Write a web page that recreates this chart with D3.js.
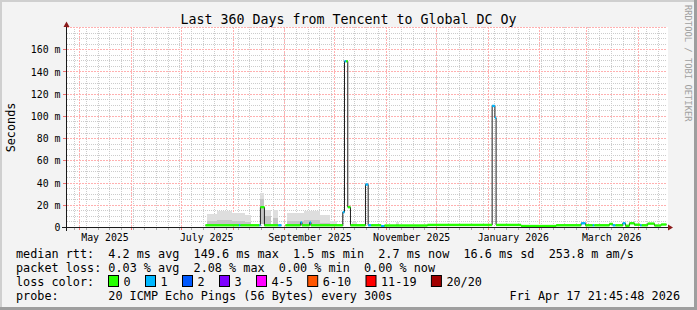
<!DOCTYPE html>
<html>
<head>
<meta charset="utf-8">
<script src="https://cdn.jsdelivr.net/npm/d3@7/dist/d3.min.js"></script>
<style>
  body { margin: 0; background: #fff; }
  svg text { font-family: "DejaVu Sans Mono", monospace; white-space: pre; }
</style>
</head>
<body>
<div id="chart"></div>
<script>
// time window of the graph: last 360 days
const startTime = "2025-04-22 21:45";
const endTime = "2026-04-17 21:45";

// median rtt (ms), each value holds from its time until the next one (null = no data)
const medianTimes = [
  "2025-07-15 07:00", "2025-08-04 09:00", "2025-08-05 06:00", "2025-08-16 16:00",
  "2025-08-17 06:00", "2025-08-19 16:00", "2025-08-28 01:00", "2025-08-29 21:00",
  "2025-09-01 07:00", "2025-09-10 07:00", "2025-09-11 05:00", "2025-09-15 17:00",
  "2025-09-16 14:00", "2025-10-05 16:00", "2025-10-06 17:00", "2025-10-07 17:00",
  "2025-10-08 16:00", "2025-10-10 07:00", "2025-10-19 07:00", "2025-10-20 22:00",
  "2025-10-22 17:00", "2025-10-28 17:00", "2025-10-30 17:00", "2025-11-25 12:00",
  "2026-01-03 07:00", "2026-01-04 23:00", "2026-01-05 16:00", "2026-01-20 16:00",
  "2026-02-10 17:00", "2026-02-25 17:00", "2026-02-28 07:00", "2026-03-04 16:00",
  "2026-03-05 16:00", "2026-03-14 16:00", "2026-03-16 16:00", "2026-03-18 07:00",
  "2026-03-22 16:00", "2026-03-24 07:00", "2026-03-26 16:00", "2026-03-29 16:00",
  "2026-04-02 02:00", "2026-04-03 01:00", "2026-04-06 15:00", "2026-04-10 16:00",
  "2026-04-14 16:00"
];
const medianValues = [
  2.0, 2.0, 2.0, 2.0,
  18.3, 2.0, 2.0, null,
  2.0, 4.5, 2.0, 4.5,
  2.0, 13.8, 149.6, 149.6,
  18.3, 2.0, 38.7, 2.0,
  2.0, 1.2, 1.8, 2.3,
  109.4, 98.8, 2.3, 1.3,
  2.0, 3.8, 2.0, 2.0,
  2.0, 3.2, 2.0, 2.0,
  3.8, 1.6, 3.8, 2.5,
  2.0, 2.0, 3.5, 1.8,
  2.7
];
// packet loss bucket (index into lossLabels)
const medianLoss = [
  0, 1, 0, 1,
  0, 0, 1, 0,
  0, 1, 0, 1,
  0, 1, 1, 0,
  0, 0, 1, 1,
  0, 1, 0, 0,
  1, 1, 0, 0,
  0, 1, 0, 1,
  0, 0, 1, 0,
  1, 0, 0, 0,
  1, 0, 0, 0,
  0
];

// smoke: spread of the 20 pings (ms)
const smokeStart = [
  "2025-07-16 12:00", "2025-07-22 12:00", "2025-07-31 00:00", "2025-08-07 18:00",
  "2025-08-17 06:00", "2025-08-19 16:00", "2025-08-24 14:00", "2025-09-02 12:00",
  "2025-09-12 10:00", "2025-09-22 00:00", "2025-09-27 18:00", "2025-10-11 12:00",
  "2025-11-06 20:00"
];
const smokeEnd = [
  "2025-07-22 12:00", "2025-07-31 00:00", "2025-08-07 18:00", "2025-08-11 20:00",
  "2025-08-19 16:00", "2025-08-23 20:00", "2025-08-28 01:00", "2025-09-12 10:00",
  "2025-09-22 00:00", "2025-09-27 18:00", "2025-10-01 22:00", "2025-10-14 04:00",
  "2025-11-08 16:00"
];
const smokeLow = [1, 1, 1, 1, 3, 1, 1, 1, 1, 1, 1, 1, 1];
const smokeMid = [6, 7, 6, 5, 26, 10, 9, 6, 7, 4, 3, 3, 3];
const smokeHigh = [12, 14.5, 13, 11, 31, 16, 16, 13, 14.5, 11, 6, 5, 5];

const yTicks = [0, 20, 40, 60, 80, 100, 120, 140, 160];
const lossLabels = ["0", "1", "2", "3", "4-5", "6-10", "11-19", "20/20"];
const lossColors = ["#26ff00", "#00b8ff", "#0059ff", "#7e00ff", "#ff00ff", "#ff5500", "#ff0000", "#a10000"];

const titleText = "Last 360 Days from Tencent to Global DC Oy";
const legendLines = [
  "median rtt:  4.2 ms avg  149.6 ms max  1.5 ms min  2.7 ms now  16.6 ms sd  253.8 m am/s",
  "packet loss: 0.03 % avg  2.08 % max  0.00 % min  0.00 % now"
];
const probeText = "20 ICMP Echo Pings (56 Bytes) every 300s";
const stampText = "Fri Apr 17 21:45:48 2026";

// ---------------------------------------------------------------
const W = 697, H = 310;
const parse = d3.utcParse("%Y-%m-%d %H:%M");
const t0 = parse(startTime), t1 = parse(endTime);

const svg = d3.select("#chart").append("svg")
  .attr("width", W)
  .attr("height", H);

// image background with shaded frame
svg.append("rect").attr("width", W).attr("height", H).attr("fill", "#f3f3f3");
svg.append("path").attr("d", `M0,0H${W}V2H2V${H}H0Z`).attr("fill", "#cfcfcf");
svg.append("path").attr("d", `M${W},${H}H0V${H - 3}H${W - 3}V0H${W}Z`).attr("fill", "#9e9e9e");

// scales
const x = d3.scaleUtc().domain([t0, t1]).range([66.5, 666.5]);
const y = d3.scaleLinear().domain([0, 180]).range([227.5, 27.5]);

// canvas
svg.append("rect")
  .attr("x", 67).attr("y", 27)
  .attr("width", 601).attr("height", 201)
  .attr("fill", "#ffffff");

const minorCol = "#cccccc";
const majorCol = "#ffb0b0";

// minor grid: weeks / 5 ms
const weeks = d3.utcMonday.range(t0, t1);
const months = d3.utcMonth.range(t0, t1);
const minorY = d3.range(5, 181, 5).filter(v => v % 20 !== 0);
const majorY = yTicks.filter(v => v > 0).concat([180]);
const px = v => Math.round(v - 0.5) + 0.5;

const gridMinor = svg.append("g")
  .attr("stroke", minorCol)
  .attr("stroke-dasharray", "1,1");
gridMinor.selectAll("line.v").data(weeks).enter().append("line")
  .attr("class", "v")
  .attr("x1", d => px(x(d))).attr("x2", d => px(x(d)))
  .attr("y1", 27).attr("y2", 227);
gridMinor.selectAll("line.h").data(minorY).enter().append("line")
  .attr("class", "h")
  .attr("x1", 67).attr("x2", 667)
  .attr("y1", d => px(y(d))).attr("y2", d => px(y(d)));

// major grid: months / 20 ms
const gridMajor = svg.append("g")
  .attr("stroke", majorCol)
  .attr("stroke-dasharray", "2,1");
gridMajor.selectAll("line.v").data(months).enter().append("line")
  .attr("class", "v")
  .attr("x1", d => px(x(d))).attr("x2", d => px(x(d)))
  .attr("y1", 27).attr("y2", 227);
gridMajor.selectAll("line.h").data(majorY).enter().append("line")
  .attr("class", "h")
  .attr("x1", 67).attr("x2", 667)
  .attr("y1", d => px(y(d))).attr("y2", d => px(y(d)));

// small ticks outside the axes
const ticks = svg.append("g");
ticks.selectAll("line.w").data(weeks).enter().append("line")
  .attr("class", "w")
  .attr("x1", d => px(x(d))).attr("x2", d => px(x(d)))
  .attr("y1", 228).attr("y2", 230)
  .attr("stroke", "#aaaaaa");
ticks.selectAll("line.m").data(months).enter().append("line")
  .attr("class", "m")
  .attr("x1", d => px(x(d))).attr("x2", d => px(x(d)))
  .attr("y1", 228).attr("y2", 230)
  .attr("stroke", "#f07070");
ticks.selectAll("line.y").data(yTicks.filter(v => v > 0)).enter().append("line")
  .attr("class", "y")
  .attr("x1", 63).attr("x2", 66)
  .attr("y1", d => px(y(d))).attr("y2", d => px(y(d)))
  .attr("stroke", "#f07070");

// smoke
const smoke = smokeStart.map((s, i) => ({
  s: parse(s), e: parse(smokeEnd[i]), lo: smokeLow[i], mid: smokeMid[i], hi: smokeHigh[i]
}));
const smokeG = svg.append("g").attr("shape-rendering", "crispEdges");
smokeG.selectAll("rect.sl").data(smoke).enter().append("rect")
  .attr("class", "sl")
  .attr("x", d => x(d.s)).attr("width", d => x(d.e) - x(d.s))
  .attr("y", d => y(d.hi)).attr("height", d => y(d.lo) - y(d.hi))
  .attr("fill", "#dedede");
smokeG.selectAll("rect.sm").data(smoke).enter().append("rect")
  .attr("class", "sm")
  .attr("x", d => x(d.s)).attr("width", d => x(d.e) - x(d.s))
  .attr("y", d => y(d.mid)).attr("height", d => y(d.lo) - y(d.mid))
  .attr("fill", "#c4c4c4");

// median steps
const segs = medianTimes.map((t, i) => ({
  s: parse(t),
  e: i + 1 < medianTimes.length ? parse(medianTimes[i + 1]) : t1,
  v: medianValues[i],
  loss: medianLoss[i]
}));
const pts = [];
segs.forEach(d => { pts.push({ t: d.s, v: d.v }, { t: d.e, v: d.v }); });

svg.append("path")
  .datum(pts)
  .attr("fill", "none")
  .attr("stroke", "#202020")
  .attr("stroke-width", 1)
  .attr("d", d3.line().defined(d => d.v !== null).x(d => x(d.t)).y(d => y(d.v)));

svg.append("g").selectAll("rect")
  .data(segs.filter(d => d.v !== null))
  .enter().append("rect")
  .attr("x", d => x(d.s))
  .attr("width", d => Math.max(1, x(d.e) - x(d.s)))
  .attr("y", d => y(d.v) - 1.2)
  .attr("height", 2.4)
  .attr("fill", d => lossColors[d.loss]);

// axes with arrows
const axis = svg.append("g").attr("shape-rendering", "crispEdges");
axis.append("line").attr("x1", 62).attr("x2", 669).attr("y1", 227.5).attr("y2", 227.5).attr("stroke", "#1a1a1a");
axis.append("line").attr("x1", 66.5).attr("x2", 66.5).attr("y1", 231).attr("y2", 24).attr("stroke", "#1a1a1a");
svg.append("path").attr("d", "M668,224.5L673,227.5L668,230.5Z").attr("fill", "#8b1a1a");
svg.append("path").attr("d", "M63.5,27L66.5,21.5L69.5,27Z").attr("fill", "#8b1a1a");

// y tick labels
svg.append("g").selectAll("text").data(yTicks).enter().append("text")
  .attr("x", 60.5).attr("y", d => y(d) + 3.6)
  .attr("text-anchor", "end")
  .attr("font-size", "9.9px")
  .attr("fill", "#000")
  .text(d => d === 0 ? "0" : `${d} m`);

// x labels, centred half a month after the tick
const labelMonths = d3.utcMonth.every(2).range(t0, t1);
const fmt = d3.utcFormat("%B %Y");
svg.append("g").selectAll("text").data(labelMonths).enter().append("text")
  .attr("x", d => x(d3.utcDay.offset(d, 15)))
  .attr("y", 241)
  .attr("text-anchor", "middle")
  .attr("font-size", "9.9px")
  .text(d => fmt(d));

// title, unit, watermark
svg.append("text").attr("x", 348.5).attr("y", 24)
  .attr("text-anchor", "middle").attr("font-size", "13.3px").text(titleText);
svg.append("text").attr("transform", "translate(15,127.5) rotate(-90)")
  .attr("text-anchor", "middle").attr("font-size", "11.8px").text("Seconds");
svg.append("text").attr("transform", "translate(685,5) rotate(90)")
  .attr("font-size", "8.8px").attr("fill", "#a0a0a0").text("RRDTOOL / TOBI OETIKER");

// legend
const lg = svg.append("g").attr("font-size", "11.8px");
legendLines.forEach((l, i) => {
  lg.append("text").attr("x", 16).attr("y", 258 + i * 14).text(l);
});
lg.append("text").attr("x", 16).attr("y", 286).text("loss color:");
let lx = 108.5;
lossLabels.forEach((lab, i) => {
  lg.append("rect").attr("x", lx).attr("y", 275.5).attr("width", 10).attr("height", 11)
    .attr("fill", lossColors[i]).attr("stroke", "#000").attr("stroke-width", 1);
  lg.append("text").attr("x", lx + 15).attr("y", 286).text(lab);
  lx += 15 + lab.length * 7.1 + 14.9;
});
lg.append("text").attr("x", 16).attr("y", 300).text("probe:");
lg.append("text").attr("x", 108.3).attr("y", 300).text(probeText);
lg.append("text").attr("x", 680).attr("y", 300).attr("text-anchor", "end").text(stampText);
</script>
</body>
</html>
